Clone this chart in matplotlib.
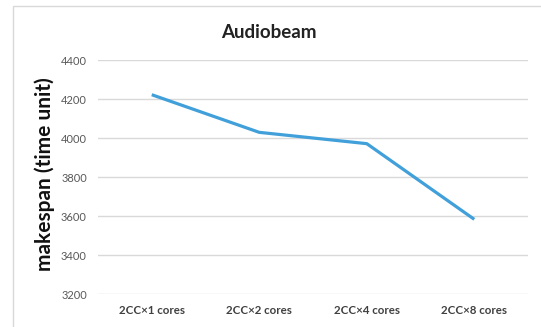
import matplotlib.pyplot as plt
from matplotlib.patches import Rectangle

categories = ['2CC\u00d71 cores', '2CC\u00d72 cores', '2CC\u00d74 cores', '2CC\u00d78 cores']
makespan = [4222, 4029, 3971, 3583]
y_ticks = [3200, 3400, 3600, 3800, 4000, 4200, 4400]

plt.rcParams['font.family'] = ['Lato', 'DejaVu Sans']

W, H = 541, 327
fig = plt.figure(figsize=(W / 100, H / 100), dpi=100)

# light frame around the chart area
fig.patches.append(Rectangle((13 / W, -0.5), 1.2, 1.5 - 6 / H, transform=fig.transFigure,
                             fill=False, edgecolor='#D9D9D9', linewidth=1.0))

ax = fig.add_axes([98 / W, 1 - 294 / H, 430 / W, 234 / H])
x = range(len(categories))
ax.plot(x, makespan, color='#41A0DA', linewidth=2.3, solid_capstyle='butt')

ax.set_xlim(-0.5, len(categories) - 0.5)
ax.set_ylim(3200, 4400)
ax.set_yticks(y_ticks)
ax.set_yticklabels([str(v) for v in y_ticks], fontsize=8, color='#595959')
ax.set_xticks(list(x))
ax.set_xticklabels(categories, fontsize=8.3, fontweight='bold', color='#404040')
ax.tick_params(axis='both', length=0)
ax.tick_params(axis='y', pad=8)
ax.tick_params(axis='x', pad=8)

ax.grid(axis='y', color='#D9D9D9', linewidth=1.0)
ax.set_axisbelow(True)
for s in ax.spines.values():
    s.set_visible(False)

fig.text(269 / W, 1 - 32 / H, 'Audiobeam', ha='center', va='center',
         fontsize=13.5, fontweight='bold', color='#222222')
fig.text(45 / W, 1 - 174 / H, 'makespan (time unit)', ha='center', va='center',
         rotation=90, fontsize=15, fontweight='bold', color='#111111')

fig.savefig('out.png', dpi=100)
